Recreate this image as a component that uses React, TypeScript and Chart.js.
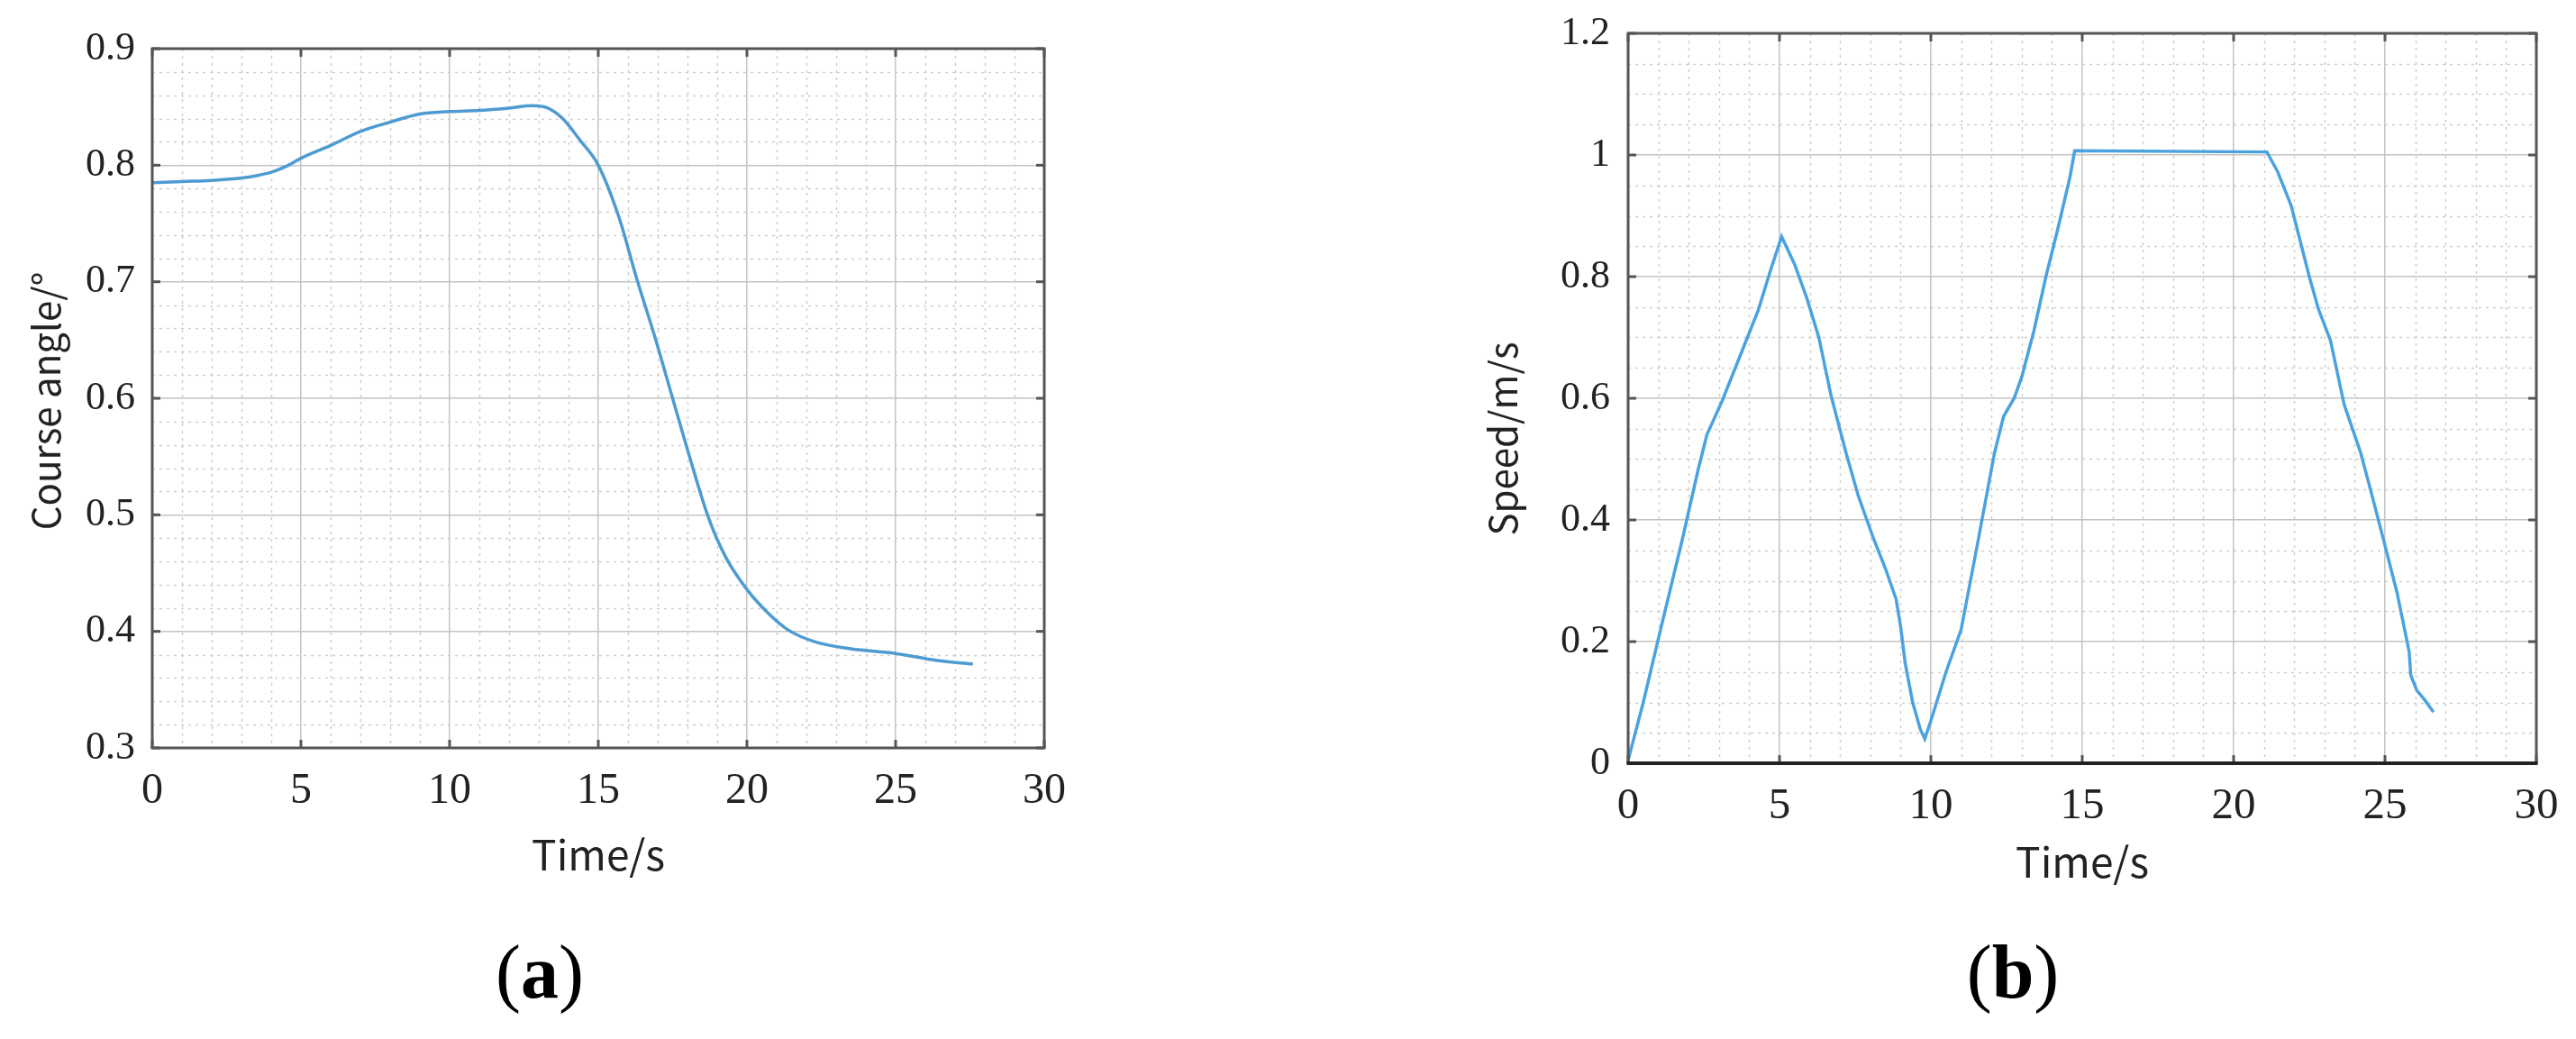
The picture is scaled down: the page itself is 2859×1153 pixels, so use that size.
import React, { useEffect, useRef } from 'react';
import { Chart, registerables } from 'chart.js';

Chart.register(...registerables);

// ---- Data ----
const courseTime = [0, 1, 2, 3, 3.5, 4, 4.5, 5, 6, 7, 8, 9, 10, 11, 12, 12.8, 13.3, 13.8, 14.4, 15, 15.7, 16.3, 16.9, 17.5, 18.0, 18.7, 19.3, 20, 20.7, 21.4, 22.3, 23.5, 25, 26.4, 27.6];
const courseAngle = [0.785, 0.786, 0.787, 0.789, 0.791, 0.794, 0.799, 0.806, 0.817, 0.829, 0.837, 0.844, 0.846, 0.847, 0.849, 0.851, 0.849, 0.840, 0.821, 0.800, 0.755, 0.702, 0.653, 0.600, 0.556, 0.498, 0.463, 0.436, 0.416, 0.401, 0.391, 0.385, 0.381, 0.375, 0.372];

const speedTime = [0, 0.5, 1.0, 1.8, 2.3, 2.6, 3.1, 3.7, 4.3, 4.7, 5.07, 5.5, 5.9, 6.3, 6.7, 7.2, 7.6, 8.1, 8.5, 8.85, 9.0, 9.15, 9.4, 9.65, 9.8, 10.0, 10.5, 11.0, 11.5, 12.1, 12.4, 12.75, 13.0, 13.4, 13.8, 14.2, 14.6, 14.75, 21.1, 21.45, 21.9, 22.5, 22.8, 23.2, 23.65, 24.2, 24.6, 25.0, 25.4, 25.8, 25.85, 26.05, 26.3, 26.6];
const speedValue = [0.005, 0.1, 0.205, 0.37, 0.48, 0.54, 0.595, 0.67, 0.745, 0.81, 0.866, 0.82, 0.765, 0.70, 0.605, 0.51, 0.44, 0.37, 0.32, 0.27, 0.225, 0.165, 0.10, 0.056, 0.04, 0.07, 0.15, 0.22, 0.35, 0.51, 0.57, 0.60, 0.635, 0.71, 0.80, 0.88, 0.965, 1.007, 1.005, 0.973, 0.917, 0.80, 0.747, 0.695, 0.59, 0.51, 0.435, 0.358, 0.28, 0.183, 0.145, 0.12, 0.105, 0.084];

const timeRange = [0, 30];
const timeStep = 5;
const angleRange = [0.3, 0.9];
const angleStep = 0.1;
const speedRange = [0, 1.2];
const speedStep = 0.2;

const titleTime = 'Time/s';
const titleAngle = 'Course angle/°';
const titleSpeed = 'Speed/m/s';
const panelLabels = ['a', 'b'];

const SERIF = '"Liberation Serif", "Times New Roman", serif';
const SANS = '"Noto Sans CJK SC", "Noto Sans", sans-serif';

const fmt = (v: number) => String(Math.round(v * 100) / 100);

// Draws MATLAB-like minor grid, box, inward ticks and rotated y title
const matlabPlugin = {
  id: 'matlabBox',
  beforeDatasetsDraw(chart: any, _args: any, opts: any) {
    const { ctx, chartArea: a, scales } = chart;
    const x = scales.x, y = scales.y;
    ctx.save();
    ctx.strokeStyle = opts.minorColor;
    ctx.lineWidth = 1.5;
    ctx.setLineDash([3, 5]);
    const nx = Math.round((x.max - x.min) / opts.minorX);
    for (let i = 1; i < nx; i++) {
      if (i % opts.perMajorX === 0) continue;
      const px = Math.round(x.getPixelForValue(x.min + i * opts.minorX)) + 0.5;
      ctx.beginPath(); ctx.moveTo(px, a.top); ctx.lineTo(px, a.bottom); ctx.stroke();
    }
    const ny = Math.round((y.max - y.min) / opts.minorY);
    for (let i = 1; i < ny; i++) {
      if (i % opts.perMajorY === 0) continue;
      const py = Math.round(y.getPixelForValue(y.min + i * opts.minorY)) + 0.5;
      ctx.beginPath(); ctx.moveTo(a.left, py); ctx.lineTo(a.right, py); ctx.stroke();
    }
    ctx.restore();
  },
  afterDatasetsDraw(chart: any, _args: any, opts: any) {
    const { ctx, chartArea: a, scales } = chart;
    const x = scales.x, y = scales.y;
    ctx.save();
    ctx.setLineDash([]);
    ctx.strokeStyle = opts.boxColor;
    ctx.lineWidth = opts.boxWidth;
    // inward ticks
    const tl = opts.tickLen;
    x.ticks.forEach((t: any) => {
      const px = x.getPixelForValue(t.value);
      ctx.beginPath(); ctx.moveTo(px, a.bottom); ctx.lineTo(px, a.bottom - tl); ctx.stroke();
      ctx.beginPath(); ctx.moveTo(px, a.top); ctx.lineTo(px, a.top + tl); ctx.stroke();
    });
    y.ticks.forEach((t: any) => {
      const py = y.getPixelForValue(t.value);
      ctx.beginPath(); ctx.moveTo(a.left, py); ctx.lineTo(a.left + tl, py); ctx.stroke();
      ctx.beginPath(); ctx.moveTo(a.right, py); ctx.lineTo(a.right - tl, py); ctx.stroke();
    });
    // box
    ctx.beginPath();
    ctx.moveTo(a.left, a.bottom); ctx.lineTo(a.left, a.top); ctx.lineTo(a.right, a.top); ctx.lineTo(a.right, a.bottom);
    ctx.stroke();
    ctx.strokeStyle = opts.bottomColor;
    ctx.lineWidth = opts.bottomWidth;
    ctx.beginPath(); ctx.moveTo(a.left - opts.boxWidth / 2, a.bottom); ctx.lineTo(a.right + opts.boxWidth / 2, a.bottom); ctx.stroke();
    ctx.restore();
  },
  afterDraw(chart: any, _args: any, opts: any) {
    const yt = opts.yTitle;
    if (!yt) return;
    const { ctx, chartArea: a } = chart;
    ctx.save();
    ctx.translate(yt.x, (a.top + a.bottom) / 2 + yt.dy);
    ctx.rotate(-Math.PI / 2);
    ctx.textAlign = 'center';
    ctx.textBaseline = 'middle';
    ctx.font = `${yt.size}px ${SANS}`;
    ctx.fillStyle = '#222';
    ctx.fillText(yt.text, 0, 0);
    ctx.restore();
  },
};

type PanelCfg = {
  times: number[];
  values: number[];
  yRange: number[];
  yStep: number;
  color: string;
  tension: number;
  pad: { left: number; top: number; right: number; bottom: number };
  yWidth: number;
  xHeight: number;
  xFont: number;
  yFont: number;
  xPad: number;
  yPad: number;
  xTitlePadBottom: number;
  plugin: any;
};

function makeConfig(c: PanelCfg): any {
  return {
    type: 'line',
    data: {
      datasets: [
        {
          data: c.times.map((t, i) => ({ x: t, y: c.values[i] })),
          borderColor: c.color,
          borderWidth: 3.5,
          pointRadius: 0,
          fill: false,
          tension: c.tension,
          cubicInterpolationMode: c.tension > 0 ? 'monotone' : 'default',
        },
      ],
    },
    options: {
      responsive: false,
      animation: false,
      devicePixelRatio: 1,
      layout: { padding: c.pad },
      plugins: {
        legend: { display: false },
        tooltip: { enabled: false },
        matlabBox: c.plugin,
      },
      scales: {
        x: {
          type: 'linear',
          min: timeRange[0],
          max: timeRange[1],
          afterFit: (s: any) => { s.height = c.xHeight; s.paddingLeft = 0; s.paddingRight = 0; },
          ticks: { stepSize: timeStep, padding: c.xPad, color: '#222', maxRotation: 0, autoSkip: false, font: { family: SERIF, size: c.xFont }, callback: (v: any) => fmt(v) },
          grid: { color: '#c4c4c4', lineWidth: 1.5, drawTicks: false },
          border: { display: false },
          title: { display: true, text: titleTime, color: '#222', font: { family: SANS, size: 46 }, padding: { top: 0, bottom: c.xTitlePadBottom } },
        },
        y: {
          type: 'linear',
          min: c.yRange[0],
          max: c.yRange[1],
          afterFit: (s: any) => { s.width = c.yWidth; s.paddingTop = 0; s.paddingBottom = 0; },
          ticks: { stepSize: c.yStep, padding: c.yPad, color: '#222', autoSkip: false, font: { family: SERIF, size: c.yFont }, callback: (v: any) => fmt(v) },
          grid: { color: '#c4c4c4', lineWidth: 1.5, drawTicks: false },
          border: { display: false },
        },
      },
    },
  };
}

function Panel({ cfg, left, width, height }: { cfg: PanelCfg; left: number; width: number; height: number }) {
  const ref = useRef<HTMLCanvasElement>(null);
  useEffect(() => {
    if (!ref.current) return;
    const chart = new Chart(ref.current, { ...makeConfig(cfg), plugins: [matlabPlugin] });
    return () => chart.destroy();
  }, []);
  return (
    <canvas
      ref={ref}
      width={width}
      height={height}
      style={{ position: 'absolute', left, top: 0, width, height }}
    />
  );
}

const leftCfg: PanelCfg = {
  times: courseTime,
  values: courseAngle,
  yRange: angleRange,
  yStep: angleStep,
  color: '#4d9bd1',
  tension: 0.4,
  pad: { left: 0, top: 54, right: 271, bottom: 0 },
  yWidth: 169,
  xHeight: 170,
  xFont: 48,
  yFont: 44,
  xPad: 20,
  yPad: 19,
  xTitlePadBottom: 24,
  plugin: {
    minorX: 1, perMajorX: 5, minorY: 0.02, perMajorY: 5,
    minorColor: '#cdcdcd', boxColor: '#555', boxWidth: 3, bottomColor: '#555', bottomWidth: 3, tickLen: 9,
    yTitle: { text: titleAngle, x: 51, dy: 3, size: 42 },
  },
};

const rightCfg: PanelCfg = {
  times: speedTime,
  values: speedValue,
  yRange: speedRange,
  yStep: speedStep,
  color: '#4aa2df',
  tension: 0,
  pad: { left: 0, top: 37, right: 44, bottom: 0 },
  yWidth: 377,
  xHeight: 153,
  xFont: 49,
  yFont: 44,
  xPad: 19,
  yPad: 20,
  xTitlePadBottom: 16,
  plugin: {
    minorX: 1, perMajorX: 5, minorY: 0.05, perMajorY: 4,
    minorColor: '#cdcdcd', boxColor: '#555', boxWidth: 3, bottomColor: '#222', bottomWidth: 4, tickLen: 9,
    yTitle: { text: titleSpeed, x: 238, dy: 45, size: 42 },
  },
};

const labelStyle: React.CSSProperties = {
  position: 'absolute',
  top: 1079,
  transform: 'translate(-50%, -50%)',
  fontFamily: SERIF,
  fontSize: 84,
  lineHeight: 1,
  whiteSpace: 'nowrap',
  color: '#000',
};

export default function App() {
  return (
    <div style={{ position: 'absolute', left: 0, top: 0, width: 2859, height: 1153, background: '#fff', overflow: 'hidden' }}>
      <Panel cfg={leftCfg} left={0} width={1430} height={1000} />
      <Panel cfg={rightCfg} left={1430} width={1429} height={1000} />
      <div style={{ ...labelStyle, left: 599 }}>(<b>{panelLabels[0]}</b>)</div>
      <div style={{ ...labelStyle, left: 2234 }}>(<b>{panelLabels[1]}</b>)</div>
    </div>
  );
}
